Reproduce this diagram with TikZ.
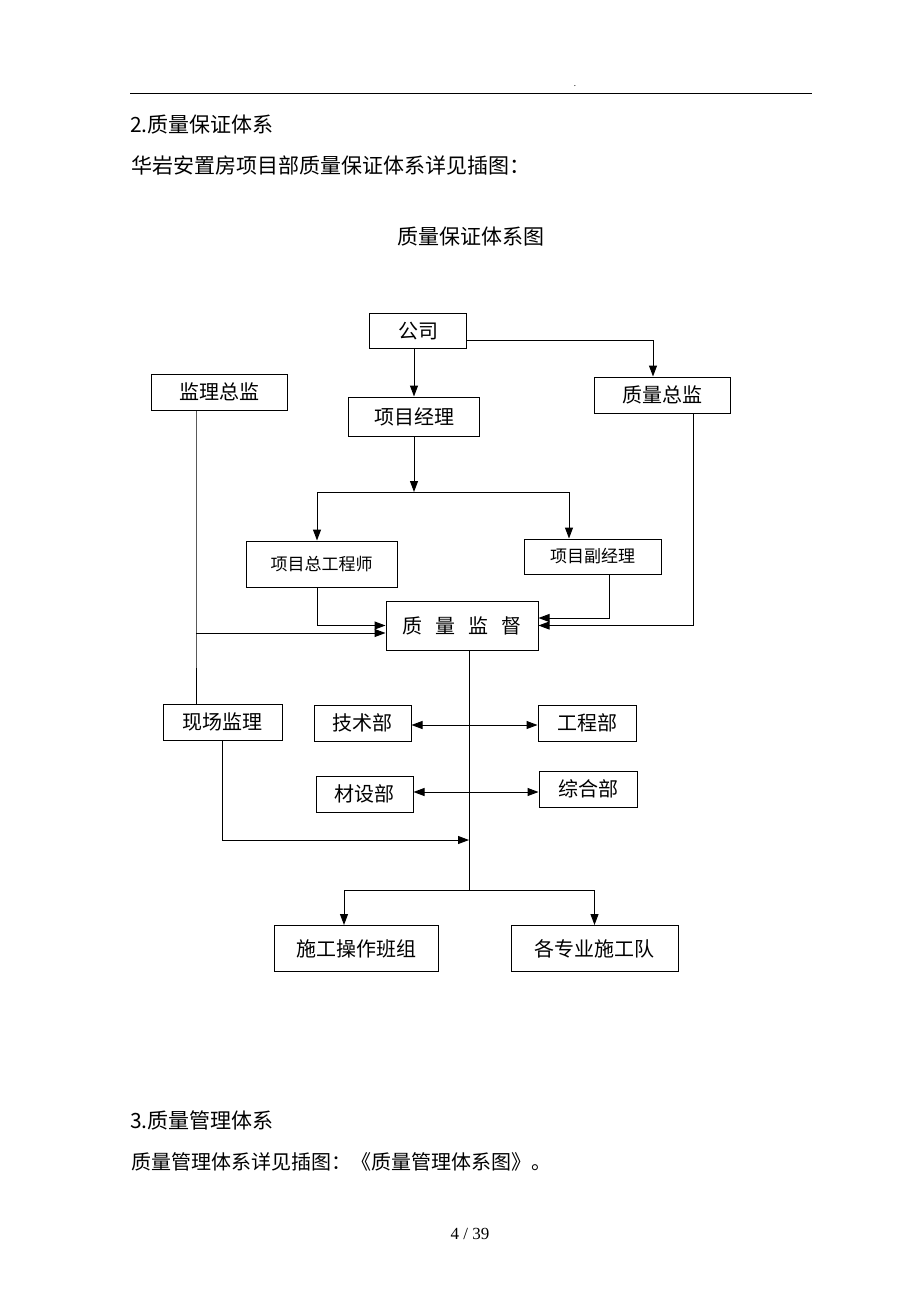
\documentclass[tikz,border=0pt]{standalone}
\usepackage{fontspec}
\setmainfont{Noto Sans CJK SC}
\newfontfamily\pagefont{Liberation Serif}
\usepackage{tikz}
\usetikzlibrary{arrows.meta}

\tikzset{
  box/.style={draw, line width=1pt, inner sep=0pt, font=\fontsize{20}{22}\selectfont},
  smallbox/.style={box, font=\fontsize{17}{19}\selectfont},
  line/.style={line width=1pt},
  arr/.style={line, -{Triangle[length=11pt,width=8pt]}},
  arrtwo/.style={line, {Triangle[length=11pt,width=8pt]}-{Triangle[length=11pt,width=8pt]}},
  bodytext/.style={anchor=west, inner sep=0pt, font=\fontsize{21}{24}\selectfont}
}

\begin{document}
\begin{tikzpicture}[x=1pt,y=-1pt]

\useasboundingbox[fill=white] (0,0) rectangle (920,1302);

% Page header
\draw[line] (130,93) -- (812,93);
\node[font=\fontsize{8}{8}\selectfont, inner sep=0pt] (dot) at (575,86) {.};

% Text above the chart
\node[bodytext] (sec2) at (130,125) {2.质量保证体系};
\node[bodytext] (intro) at (131,165) {华岩安置房项目部质量保证体系详见插图：};
\node[font=\fontsize{21}{24}\selectfont, inner sep=0pt] (title) at (471,237) {质量保证体系图};

% Boxes
\node[box, minimum width=97pt, minimum height=35pt] (gongsi) at (418,331) {公司};
\node[box, minimum width=136pt, minimum height=36pt] (jlzj) at (219,392) {监理总监};
\node[box, minimum width=131pt, minimum height=39pt] (xmjl) at (414,416.5) {项目经理};
\node[box, minimum width=136pt, minimum height=36pt] (zlzj) at (662,395) {质量总监};
\node[smallbox, minimum width=151pt, minimum height=46pt] (zgcs) at (321.5,564) {项目总工程师};
\node[smallbox, minimum width=137pt, minimum height=35pt] (fjl) at (592.5,556.5) {项目副经理};
\node[box, minimum width=152pt, minimum height=49pt] (zljd) at (462,625.5)
  {质\hspace{13pt}量\hspace{13pt}监\hspace{13pt}督};
\node[box, minimum width=119pt, minimum height=36pt] (xcjl) at (222.5,722) {现场监理};
\node[box, minimum width=97pt, minimum height=36pt] (jsb) at (362.5,723) {技术部};
\node[box, minimum width=98pt, minimum height=36pt] (gcb) at (587,723) {工程部};
\node[box, minimum width=97pt, minimum height=36pt] (csb) at (364.5,794) {材设部};
\node[box, minimum width=98pt, minimum height=36pt] (zhb) at (588,789) {综合部};
\node[box, minimum width=164pt, minimum height=46pt] (sgcz) at (356,948.5) {施工操作班组};
\node[box, minimum width=167pt, minimum height=46pt] (gzy) at (594.5,948.5) {各专业施工队};

% Junction points
\coordinate (jA) at (414,492);
\coordinate (jB) at (196,633);
\coordinate (jC) at (469,840);
\coordinate (jD) at (469,890);

% Connectors, top part
\draw[arr] (gongsi.south -| xmjl.north) -- (xmjl.north);
\draw[arr] ([yshift=-9pt]gongsi.east) -| ([xshift=-9pt]zlzj.north);
\draw[arr] (xmjl.south -| jA) -- (jA);
\draw[arr] (jA) -| ([xshift=-4.5pt]zgcs.north);
\draw[arr] (jA) -| ([xshift=-23.5pt]fjl.north);

% Connectors into the quality supervision box
\draw[arr] ([xshift=-4.5pt]zgcs.south) |- (zljd.west);
\draw[line] ([xshift=-23pt]jlzj.south) -- (jB) -- ([xshift=-26.5pt]xcjl.north);
\draw[arr] (jB) -- ([yshift=-7.5pt]zljd.west);
\draw[arr] ([xshift=16.5pt]fjl.south) |- ([yshift=7.5pt]zljd.east);
\draw[arr] ([xshift=31pt]zlzj.south) |- (zljd.east);

% Main trunk and departments
\draw[line] ([xshift=7pt]zljd.south) -- (jD);
\draw[arrtwo] ([yshift=-2pt]jsb.east) -- ([yshift=-2pt]gcb.west);
\draw[arrtwo] ([yshift=2pt]csb.east) -- ([yshift=2pt]csb.east -| zhb.west);
\draw[arr] (xcjl.south) |- (jC);
\draw[arr] (jD) -| ([xshift=-12pt]sgcz.north);
\draw[arr] (jD) -| (gzy.north);

% Text below the chart
\node[bodytext] (sec3) at (130,1120) {3.质量管理体系};
\node[bodytext, font=\fontsize{20}{24}\selectfont] (refer) at (131,1162) {质量管理体系详见插图：《质量管理体系图》。};
\node[font=\pagefont\fontsize{17}{20}\selectfont, inner sep=0pt] (pageno) at (470,1234) {4 / 39};

\end{tikzpicture}
\end{document}
